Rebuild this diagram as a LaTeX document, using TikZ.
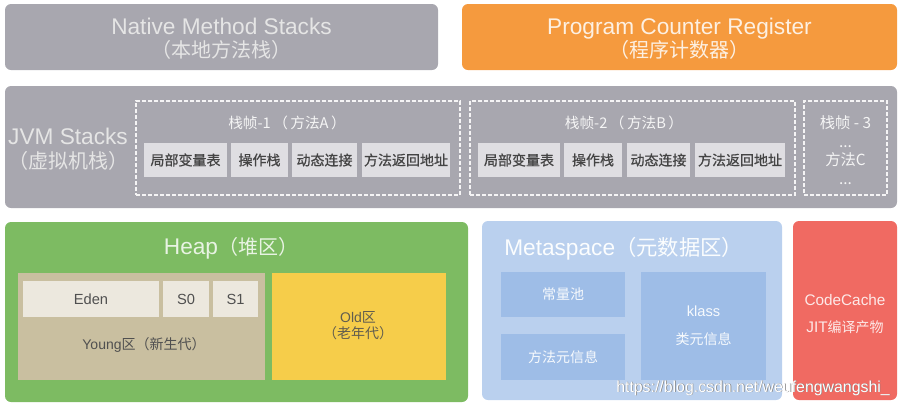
\documentclass[tikz,border=0pt]{standalone}
\usepackage{fontspec}
\setmainfont{Liberation Sans}
\newfontfamily\cjk{Noto Sans CJK SC}
\newfontfamily\cjkheavy[FakeBold=0.8]{Noto Sans CJK SC}
\newcommand\pxu{0.75pt}

\definecolor{jvmgray}{RGB}{168,167,175}
\definecolor{pcorange}{RGB}{245,154,62}
\definecolor{heapgreen}{RGB}{125,187,98}
\definecolor{youngtan}{RGB}{201,191,160}
\definecolor{edenlight}{RGB}{236,232,222}
\definecolor{oldyellow}{RGB}{246,205,74}
\definecolor{metablue}{RGB}{186,208,238}
\definecolor{innerblue}{RGB}{158,189,231}
\definecolor{codered}{RGB}{240,106,98}
\definecolor{slotgray}{RGB}{223,222,226}
\definecolor{darktext}{RGB}{80,80,80}

\tikzset{
  panel/.style 2 args={rectangle, rounded corners=4.5pt, inner sep=0pt,
    minimum width=#1*\pxu, minimum height=#2*\pxu},
  cell/.style 2 args={rectangle, inner sep=0pt,
    minimum width=#1*\pxu, minimum height=#2*\pxu},
  dashframe/.style 2 args={cell={#1}{#2}, draw=white!88!jvmgray,
    dash pattern=on 3pt off 1.5pt, line width=0.9pt},
  slotbox/.style={cell={#1}{34}, fill=slotgray, text=darktext!85!black,
    font=\cjkheavy\fontsize{10.5}{12}\selectfont},
  headtext/.style={text=white!90!black, align=center, inner sep=0pt,
    font=\fontsize{17}{18}\selectfont},
  frametext/.style={text=white!88!jvmgray, align=center, inner sep=0pt,
    font=\cjk\fontsize{11}{14}\selectfont},
  smalltext/.style={text=darktext, align=center, inner sep=0pt,
    font=\fontsize{11}{14}\selectfont},
}

\begin{document}
\begin{tikzpicture}[x=0.75pt, y=-0.75pt]
    \useasboundingbox (0,0) rectangle (900,408);
    % The two boxes along the top.
        \node[panel={433}{66}, fill=jvmgray] (native) at (221.5,37) {};
        \node[headtext] (nativetext) at (221.5,39) {Native Method Stacks\\[-1pt]{\cjk\fontsize{15}{18}\selectfont （本地方法栈）}};
        \node[panel={435}{66}, fill=pcorange] (pcr) at (679.5,37) {};
        \node[headtext, text=white!85!pcorange] (pcrtext) at (679.5,39) {Program Counter Register\\[-1pt]{\cjk\fontsize{15}{18}\selectfont （程序计数器）}};
    % JVM stacks with its three frames.
        \node[panel={892}{122}, fill=jvmgray] (jvm) at (451,147) {};
        \node[headtext] (jvmtext) at (68,149) {JVM Stacks\\[0pt]{\cjk\fontsize{15}{16}\selectfont （虚拟机栈）}};
        \node[dashframe={324}{94}] (frameA) at (298,148) {};
        \node[frametext] (frameAtitle) at (287,123) {栈帧-1\,（\,方法A\,）};
        \node[slotbox=83] (localA) at (185.5,160) {局部变量表};
        \node[slotbox=57] (operandA) at (259.5,160) {操作栈};
        \node[slotbox=65] (linkA) at (324.5,160) {动态连接};
        \node[slotbox=88] (returnA) at (406,160) {方法返回地址};
        \node[dashframe={325}{94}] (frameB) at (632.5,148) {};
        \node[frametext] (frameBtitle) at (624,123) {栈帧-2\,（\,方法B\,）};
        \node[slotbox=82] (localB) at (519,160) {局部变量表};
        \node[slotbox=58] (operandB) at (593,160) {操作栈};
        \node[slotbox=63] (linkB) at (658.5,160) {动态连接};
        \node[slotbox=90] (returnB) at (740,160) {方法返回地址};
        \node[dashframe={83}{94}] (frameC) at (845.5,148) {};
        \node[frametext, font=\cjk\fontsize{11.5}{14}\selectfont] (frameCtext) at (845.5,150) {栈帧 - 3\\...\\方法C\\...};
    % Heap on the bottom left.
        \node[panel={463}{180}, fill=heapgreen] (heap) at (236.5,312) {};
        \node[headtext, text=white!82!heapgreen] (heaptitle) at (231,248) {Heap{\cjk\fontsize{15}{18}\selectfont （堆区）}};
        \node[cell={247}{107}, fill=youngtan] (young) at (141.5,326.5) {};
        \node[cell={136}{36}, fill=edenlight, smalltext] (eden) at (91,299) {Eden};
        \node[cell={46}{36}, fill=edenlight, smalltext] (szero) at (186,299) {S0};
        \node[cell={45}{36}, fill=edenlight, smalltext] (sone) at (235.5,299) {S1};
        \node[smalltext, font=\fontsize{10.5}{14}\selectfont] (youngtext) at (144,345) {Young{\cjk 区（新生代）}};
        \node[cell={174}{107}, fill=oldyellow] (old) at (359,326.5) {};
        \node[smalltext, text=darktext!90!oldyellow, font=\fontsize{10.5}{12}\selectfont] (oldtext) at (358,326) {Old{\cjk 区}\\{\cjk （老年代）}};
    % Metaspace next to it.
        \node[panel={300}{179}, fill=metablue] (meta) at (632,310.5) {};
        \node[headtext, anchor=west, text=white!95!metablue] (metatitle) at (504,249) {Metaspace{\cjk\fontsize{16}{18}\selectfont （元数据区）}};
        \node[cell={124}{45}, fill=innerblue, text=white!92!innerblue, font=\cjk\fontsize{10.5}{12}\selectfont] (pool) at (563,294.5) {常量池};
        \node[cell={124}{46}, fill=innerblue, text=white!92!innerblue, font=\cjk\fontsize{10.5}{12}\selectfont] (methodinfo) at (563,357) {方法元信息};
        \node[cell={125}{108}, fill=innerblue, text=white!92!innerblue, align=center, font=\fontsize{11}{21}\selectfont] (klass) at (703.5,326) {klass\\{\cjk\fontsize{10.5}{21}\selectfont 类元信息}};
    % This is the code cache on the right.
        \node[panel={104}{179}, fill=codered] (codecache) at (845,310.5) {};
        \node[text=white!85!codered, align=center, inner sep=0pt, font=\fontsize{11.5}{20}\selectfont] (codetext) at (845,314) {CodeCache\\JIT{\cjk\fontsize{10.5}{20}\selectfont 编译产物}};
    % The watermark at the bottom.
        \node[anchor=west, inner sep=0pt, text=gray, font=\fontsize{11.9}{12}\selectfont] (markshadow) at (616.6,388.6) {https://blog.csdn.net/weufengwangshi\_};
        \node[anchor=west, inner sep=0pt, text=white, font=\fontsize{11.9}{12}\selectfont] (mark) at (616,388) {https://blog.csdn.net/weufengwangshi\_};
\end{tikzpicture}
\end{document}
